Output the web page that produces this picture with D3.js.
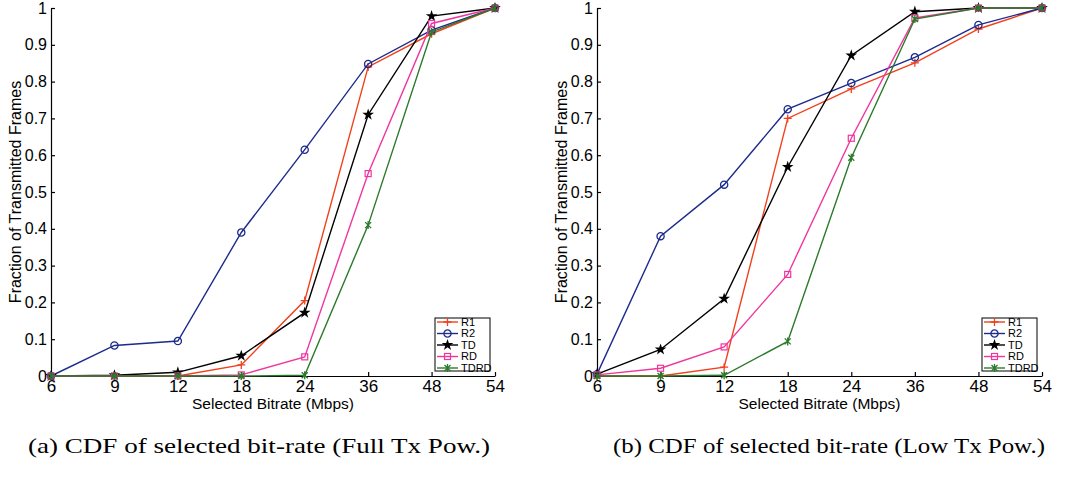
<!DOCTYPE html>
<html>
<head>
<meta charset="utf-8">
<script src="https://cdn.jsdelivr.net/npm/d3@7"></script>
<style>
body { margin: 0; background: #fff; }
svg { display: block; }
.tick text { font-family: "Liberation Sans", Arial, sans-serif; font-size: 16px; fill: #000; }
.domain, .tick line { stroke: #000; stroke-width: 1.2px; }
</style>
</head>
<body>
<svg width="1070" height="478"></svg>
<script>
// categories and series
var rates = ['6', '9', '12', '18', '24', '36', '48', '54'];
var series_names = ['R1', 'R2', 'TD', 'RD', 'TDRD'];
var y_ticks = [0, 0.1, 0.2, 0.3, 0.4, 0.5, 0.6, 0.7, 0.8, 0.9, 1];

// (a) full tx power
var full_r1   = [0, 0, 0, 0.03, 0.205, 0.84, 0.93, 1];
var full_r2   = [0, 0.083, 0.095, 0.39, 0.615, 0.848, 0.94, 1];
var full_td   = [0, 0.002, 0.01, 0.055, 0.172, 0.71, 0.978, 1];
var full_rd   = [0, 0, 0, 0.003, 0.052, 0.55, 0.958, 1];
var full_tdrd = [0, 0, 0, 0, 0.002, 0.41, 0.935, 1];

// (b) low tx power
var low_r1   = [0, 0, 0.024, 0.70, 0.78, 0.851, 0.943, 1];
var low_r2   = [0.005, 0.38, 0.52, 0.725, 0.796, 0.866, 0.954, 1];
var low_td   = [0.005, 0.072, 0.21, 0.568, 0.871, 0.99, 1, 1];
var low_rd   = [0.003, 0.021, 0.079, 0.276, 0.646, 0.973, 1, 1];
var low_tdrd = [0, 0, 0.002, 0.094, 0.593, 0.97, 1, 1];

var captions = ['(a) CDF of selected bit-rate (Full Tx Pow.)', '(b) CDF of selected bit-rate (Low Tx Pow.)'];

var colors = { R1: '#f2401c', R2: '#1c2b8c', TD: '#000000', RD: '#f0369e', TDRD: '#2b7a2b' };

var panels = [
	{ left: 51, right: 495, data: [full_r1, full_r2, full_td, full_rd, full_tdrd], cap_x: 259, cap_w: 462 },
	{ left: 597, right: 1042, data: [low_r1, low_r2, low_td, low_rd, low_tdrd], cap_x: 829, cap_w: 432 }
];
var top_y = 8, bottom_y = 376;

var svg = d3.select('svg');

function marker(g, name, color)
{
	if(name === 'R1')
		g.append('path').attr('d', 'M-4,0H4M0,-4V4').attr('stroke', color).attr('stroke-width', 1.3).attr('fill', 'none');
	else if(name === 'R2')
		g.append('circle').attr('r', 3.6).attr('fill', 'none').attr('stroke', color).attr('stroke-width', 1.3);
	else if(name === 'TD')
		g.append('path').attr('d', d3.symbol(d3.symbolStar).size(42)()).attr('fill', color);
	else if(name === 'RD')
		g.append('rect').attr('x', -3).attr('y', -3).attr('width', 6).attr('height', 6).attr('fill', 'none').attr('stroke', color).attr('stroke-width', 1.2);
	else
		g.append('path').attr('d', 'M-3,-3L3,3M-3,3L3,-3M0,-4V4').attr('stroke', color).attr('stroke-width', 1.3).attr('fill', 'none');
}

panels.forEach(function(p, pi)
{
	var x = d3.scalePoint().domain(rates).range([p.left, p.right]);
	var y = d3.scaleLinear().domain([0, 1]).range([bottom_y, top_y]);
	var g = svg.append('g');

	// Axes (box off, ticks inward)
	g.append('g')
		.attr('transform', 'translate(0,' + bottom_y + ')')
		.call(d3.axisBottom(x).tickSizeInner(-4).tickSizeOuter(0).tickPadding(4))
		.selectAll('.tick text').style('font-size', '17px');
	g.append('g')
		.attr('transform', 'translate(' + p.left + ',0)')
		.call(d3.axisLeft(y).tickValues(y_ticks).tickFormat(d3.format('.1~f')).tickSizeInner(-4).tickSizeOuter(0).tickPadding(4));

	// Series
	var line = d3.line().x((d, i) => x(rates[i])).y(d => y(d));
	series_names.forEach(function(name, si)
	{
		var vals = p.data[si];
		g.append('path')
			.attr('d', line(vals))
			.attr('fill', 'none')
			.attr('stroke', colors[name])
			.attr('stroke-width', 1.4);
		vals.forEach(function(v, i)
		{
			var m = g.append('g').attr('transform', 'translate(' + x(rates[i]) + ',' + y(v) + ')');
			marker(m, name, colors[name]);
		});
	});

	// Labels
	g.append('text')
		.attr('x', (p.left + p.right) / 2)
		.attr('y', 409)
		.attr('text-anchor', 'middle')
		.style('font-family', '"Liberation Sans", Arial, sans-serif')
		.style('font-size', '15.5px')
		.text('Selected Bitrate (Mbps)');
	g.append('text')
		.attr('transform', 'translate(' + (p.left - 30) + ',' + ((top_y + bottom_y) / 2) + ') rotate(-90)')
		.attr('text-anchor', 'middle')
		.style('font-family', '"Liberation Sans", Arial, sans-serif')
		.style('font-size', '16px')
		.text('Fraction of Transmitted Frames');

	// Legend
	var lx = p.right - 60, ly = 318;
	var leg = g.append('g').attr('transform', 'translate(' + lx + ',' + ly + ')');
	leg.append('rect').attr('width', 55).attr('height', 53).attr('fill', '#fff').attr('stroke', '#000').attr('stroke-width', 1);
	series_names.forEach(function(name, si)
	{
		var row = leg.append('g').attr('transform', 'translate(0,' + (4 + si * 11.5) + ')');
		row.append('line').attr('x1', 2).attr('x2', 23).attr('stroke', colors[name]).attr('stroke-width', 1.4);
		var m = row.append('g').attr('transform', 'translate(12.5,0)');
		marker(m, name, colors[name]);
		row.append('text')
			.attr('x', 26)
			.attr('dy', '0.35em')
			.style('font-family', '"Liberation Sans", Arial, sans-serif')
			.style('font-size', '11px')
			.text(name);
	});

	// Caption
	svg.append('text')
		.attr('x', p.cap_x)
		.attr('y', 453)
		.attr('text-anchor', 'middle')
		.attr('textLength', p.cap_w)
		.attr('lengthAdjust', 'spacingAndGlyphs')
		.style('font-family', '"Liberation Serif", "DejaVu Serif", serif')
		.style('font-size', '22px')
		.text(captions[pi]);
});
</script>
</body>
</html>
